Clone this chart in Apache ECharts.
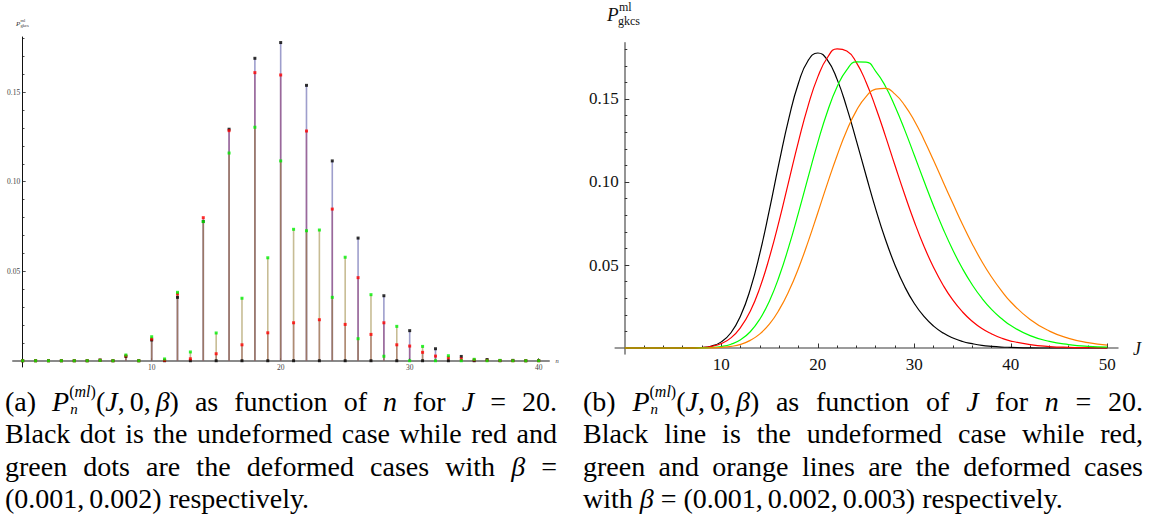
<!DOCTYPE html>
<html><head><meta charset="utf-8">
<script src="https://cdn.jsdelivr.net/npm/echarts@6/dist/echarts.min.js"></script>
<style>
html,body{margin:0;padding:0;background:#fff;}
#chart{position:absolute;left:0;top:0;width:1149px;height:522px;}
.cap{position:absolute;font-family:"Liberation Serif",serif;font-size:28px;line-height:32.3px;color:#000;}
.cap div{white-space:nowrap;text-align:justify;text-align-last:justify;}
.cap div.last{text-align:left;text-align-last:left;}
.up{position:relative;top:-14.5px;font-size:16px;line-height:1;}
.dn{display:inline-block;width:0;position:relative;top:3px;left:1px;font-size:15px;line-height:1;}
.ts{display:inline-block;width:5px;}
</style>
</head><body>
<div id="chart"></div>
<div class="cap" style="left:5px;top:386px;width:552px;">
<div>(a) <i>P</i><span class="dn"><i>n</i></span><span class="up">(<i>ml</i>)</span>(<i>J</i>,<span class="ts"></span>0,<span class="ts"></span><i>β</i>) as function of <i>n</i> for <i>J</i> = 20.</div>
<div>Black dot is the undeformed case while red and</div>
<div>green dots are the deformed cases with <i>β</i> =</div>
<div class="last">(0.001,<span class="ts"></span>0.002) respectively.</div>
</div>
<div class="cap" style="left:583px;top:386px;width:560px;">
<div>(b) <i>P</i><span class="dn"><i>n</i></span><span class="up">(<i>ml</i>)</span>(<i>J</i>,<span class="ts"></span>0,<span class="ts"></span><i>β</i>) as function of <i>J</i> for <i>n</i> = 20.</div>
<div>Black line is the undeformed case while red,</div>
<div>green and orange lines are the deformed cases</div>
<div class="last">with <i>β</i> = (0.001,<span class="ts"></span>0.002,<span class="ts"></span>0.003) respectively.</div>
</div>
<script>
// ---- Left panel: P vs n (J = 20) ----
const nValues = [0,1,2,3,4,5,6,7,8,9,10,11,12,13,14,15,16,17,18,19,20,21,22,23,24,25,26,27,28,29,30,31,32,33,34,35,36,37,38,39,40];
const blackDots = [0,0,0,0,0,0,0.0004,0,0.0024,0,0.0116,0,0.0354,0,0.0778,0,0.1293,0,0.1689,0,0.1777,0,0.1538,0,0.1116,0,0.0685,0,0.0363,0,0.0168,0,0.0067,0,0.0024,0,0.0007,0,0.0002,0,0.0001];
const redDots   = [0,0,0,0,0,0,0.0003,0,0.0027,0,0.0121,0.0003,0.0373,0.0011,0.0799,0.0039,0.1285,0.0089,0.1609,0.0156,0.1596,0.0212,0.1283,0.0229,0.0847,0.0203,0.0464,0.0147,0.0212,0.0089,0.0082,0.0047,0.0026,0.0017,0.0010,0.0005,0.0002,0.0001,0,0,0];
const greenDots = [0,0,0,0,0,0,0.0002,0,0.0032,0,0.0134,0.0010,0.0382,0.0049,0.0777,0.0155,0.1160,0.0349,0.1304,0.0575,0.1116,0.0734,0.0726,0.0730,0.0354,0.0578,0.0123,0.0369,0.0025,0.0192,0,0.0080,0,0.0028,0,0.0008,0,0.0002,0,0,0];
const leftYTicks = [0.05, 0.10, 0.15];
const leftYMinor = [0.01,0.02,0.03,0.04,0.06,0.07,0.08,0.09,0.11,0.12,0.13,0.14,0.16,0.17,0.18];
const leftXTicks = [10, 20, 30, 40];

// ---- Right panel: P vs J (n = 20) ----
const jValues = [0,1,2,3,4,5,6,7,8,9,10,11,12,13,14,15,16,17,18,19,20,21,22,23,24,25,26,27,28,29,30,31,32,33,34,35,36,37,38,39,40,42,44,46,48,50];
const curveBeta0    = [0,0,0,0,0,0,0,0.0001,0.0003,0.0012,0.0037,0.0092,0.0194,0.0353,0.0572,0.0836,0.1119,0.1383,0.1596,0.1732,0.1777,0.1734,0.1618,0.1448,0.1248,0.1039,0.0837,0.0655,0.0499,0.0370,0.0268,0.0190,0.0132,0.0090,0.0060,0.0039,0.0026,0.0016,0.0010,0.0006,0.0004,0.0001,0,0,0,0];
const curveBeta001  = [0,0,0,0,0,0,0,0.0001,0.0003,0.0010,0.0027,0.0061,0.0124,0.0222,0.0364,0.0549,0.0767,0.1007,0.1245,0.1460,0.1633,0.1750,0.1802,0.1789,0.1719,0.1601,0.1449,0.1278,0.1099,0.0925,0.0761,0.0613,0.0485,0.0377,0.0288,0.0217,0.0161,0.0117,0.0085,0.0060,0.0042,0.0020,0.0009,0.0004,0.0002,0.0001];
const curveBeta002  = [0,0,0,0,0,0,0,0,0.0001,0.0003,0.0009,0.0023,0.0050,0.0098,0.0175,0.0285,0.0432,0.0612,0.0816,0.1029,0.1239,0.1425,0.1573,0.1676,0.1723,0.1722,0.1667,0.1577,0.1455,0.1314,0.1161,0.1006,0.0856,0.0716,0.0589,0.0477,0.0381,0.0300,0.0233,0.0179,0.0135,0.0075,0.0040,0.0021,0.0010,0.0005];
const curveBeta003  = [0,0,0,0,0,0,0,0,0,0.0001,0.0004,0.0010,0.0022,0.0046,0.0085,0.0145,0.0231,0.0343,0.0481,0.0641,0.0815,0.0992,0.1160,0.1310,0.1430,0.1514,0.1559,0.1564,0.1529,0.1462,0.1369,0.1255,0.1129,0.0999,0.0870,0.0744,0.0627,0.0521,0.0428,0.0347,0.0277,0.0172,0.0102,0.0058,0.0032,0.0017];
const rightYTicks = [0.05, 0.10, 0.15];
const rightYMinor = [0.01,0.02,0.03,0.04,0.06,0.07,0.08,0.09,0.11,0.12,0.13,0.14,0.16,0.17,0.18];
const rightXTicks = [10, 20, 30, 40, 50];
const rightXMinor = [2,4,6,8,12,14,16,18,22,24,26,28,32,34,36,38,42,44,46,48];

const pair = (xs, ys) => xs.map((x, i) => [x, ys[i]]);
const serif = '"Liberation Serif", "Times New Roman", serif';

const chart = echarts.init(document.getElementById('chart'), null, {renderer: 'svg'});

const LY = {min: -0.0035, max: 0.1808};
const LX = {min: -0.75, max: 40.8};
const RY = {min: -0.0036, max: 0.1839};
const RX = {min: -1, max: 51.1};
const hidden = {show: false};

function stem(vals, color) {
  return {type: 'bar', xAxisIndex: 0, yAxisIndex: 0, data: pair(nValues, vals), barWidth: 1.6, barGap: '-100%',
    itemStyle: {color: color}, silent: true};
}
function dots(vals, color) {
  return {type: 'scatter', xAxisIndex: 0, yAxisIndex: 0, data: pair(nValues, vals), symbol: 'rect', symbolSize: 3,
    itemStyle: {color: color}, z: 5, silent: true};
}
function curve(vals, color) {
  return {type: 'line', xAxisIndex: 3, yAxisIndex: 4, data: pair(jValues, vals), showSymbol: false, symbol: 'none',
    smooth: 0.5, lineStyle: {color: color, width: 1.2}, silent: true};
}

chart.setOption({
  animation: false,
  backgroundColor: '#fff',
  grid: [
    {left: 13, top: 37, width: 536, height: 330},
    {left: 13, top: 37, width: 536, height: 323.7},
    {left: 22.7, top: 37, width: 100, height: 330},
    {left: 615.15, top: 42.7, width: 502.8, height: 311.3},
    {left: 615.15, top: 42.7, width: 502.8, height: 305.3},
    {left: 624.8, top: 42.7, width: 100, height: 311.3}
  ],
  xAxis: [
    {gridIndex: 0, type: 'value', min: LX.min, max: LX.max, show: false},
    {gridIndex: 1, type: 'value', min: LX.min, max: LX.max, position: 'bottom',
      axisLine: {onZero: false, lineStyle: {color: '#8a8a8a', width: 2}},
      axisTick: {customValues: leftXTicks, inside: true, length: 2.5, lineStyle: {color: '#333', width: 0.8}},
      axisLabel: {customValues: leftXTicks, fontFamily: serif, fontSize: 7.5, color: '#444', margin: 3},
      splitLine: hidden},
    {gridIndex: 2, type: 'value', min: 0, max: 1, show: false},
    {gridIndex: 3, type: 'value', min: RX.min, max: RX.max, show: false},
    {gridIndex: 4, type: 'value', min: RX.min, max: RX.max, position: 'bottom',
      axisLine: {onZero: false, lineStyle: {color: '#7a7a7a', width: 1.6}},
      axisTick: {customValues: rightXTicks, inside: true, length: 4.5, lineStyle: {color: '#333', width: 1}},
      axisLabel: {customValues: rightXTicks, fontFamily: serif, fontSize: 17, color: '#111', margin: 8},
      splitLine: hidden},
    {gridIndex: 4, type: 'value', min: RX.min, max: RX.max, position: 'bottom',
      axisLine: {show: false, onZero: false},
      axisTick: {customValues: rightXMinor, inside: true, length: 2.5, lineStyle: {color: '#333', width: 1}},
      axisLabel: {show: false}, splitLine: hidden},
    {gridIndex: 5, type: 'value', min: 0, max: 1, show: false}
  ],
  yAxis: [
    {gridIndex: 0, type: 'value', min: LY.min, max: LY.max, show: false},
    {gridIndex: 1, type: 'value', min: 0, max: 1, show: false},
    {gridIndex: 2, type: 'value', min: LY.min, max: LY.max, position: 'left',
      axisLine: {show: true, onZero: false, lineStyle: {color: '#111', width: 1}},
      axisTick: {show: true, customValues: leftYTicks, inside: true, length: 3, lineStyle: {color: '#222', width: 0.8}},
      axisLabel: {customValues: leftYTicks, formatter: v => v.toFixed(2), fontFamily: serif, fontSize: 7.5, color: '#444', margin: 2.5},
      splitLine: hidden},
    {gridIndex: 2, type: 'value', min: LY.min, max: LY.max, position: 'left',
      axisLine: {show: false, onZero: false},
      axisTick: {show: true, customValues: leftYMinor, inside: true, length: 1.8, lineStyle: {color: '#222', width: 0.8}},
      axisLabel: {show: false}, splitLine: hidden},
    {gridIndex: 3, type: 'value', min: RY.min, max: RY.max, show: false},
    {gridIndex: 4, type: 'value', min: 0, max: 1, show: false},
    {gridIndex: 5, type: 'value', min: RY.min, max: RY.max, position: 'left',
      axisLine: {show: true, onZero: false, lineStyle: {color: '#7a7a7a', width: 1.6}},
      axisTick: {show: true, customValues: rightYTicks, inside: true, length: 4.5, lineStyle: {color: '#333', width: 1}},
      axisLabel: {customValues: rightYTicks, formatter: v => v.toFixed(2), fontFamily: serif, fontSize: 17, color: '#111', margin: 6},
      splitLine: hidden},
    {gridIndex: 5, type: 'value', min: RY.min, max: RY.max, position: 'left',
      axisLine: {show: false, onZero: false},
      axisTick: {show: true, customValues: rightYMinor, inside: true, length: 2.5, lineStyle: {color: '#333', width: 1}},
      axisLabel: {show: false}, splitLine: hidden}
  ],
  graphic: [
    {type: 'text', left: 16, top: 20, style: {text: 'P', font: 'italic 7px ' + serif, fill: '#333'}},
    {type: 'text', left: 20.5, top: 17.5, style: {text: 'ml', font: '4.5px ' + serif, fill: '#333'}},
    {type: 'text', left: 20.5, top: 23, style: {text: 'gkcs', font: '4.5px ' + serif, fill: '#333'}},
    {type: 'text', left: 555.5, top: 357, style: {text: 'n', font: 'italic 6.5px ' + serif, fill: '#333'}},
    {type: 'text', left: 607, top: 5, style: {text: 'P', font: 'italic 19px ' + serif, fill: '#111'}},
    {type: 'text', left: 619, top: 1, style: {text: 'ml', font: '12px ' + serif, fill: '#111'}},
    {type: 'text', left: 618, top: 15, style: {text: 'gkcs', font: '12px ' + serif, fill: '#111'}},
    {type: 'text', left: 1133, top: 340, style: {text: 'J', font: 'italic 18px ' + serif, fill: '#111'}}
  ],
  series: [
    stem(blackDots, 'rgba(61,61,153,0.5)'),
    stem(redDots, 'rgba(153,61,113,0.55)'),
    stem(greenDots, 'rgba(153,133,61,0.55)'),
    dots(blackDots, '#000000'),
    dots(redDots, '#ff0000'),
    dots(greenDots, '#00ee00'),
    curve(curveBeta0, '#000000'),
    curve(curveBeta001, '#ff0000'),
    curve(curveBeta002, '#00ff00'),
    curve(curveBeta003, '#ff8000')
  ]
});
</script>
</body></html>
